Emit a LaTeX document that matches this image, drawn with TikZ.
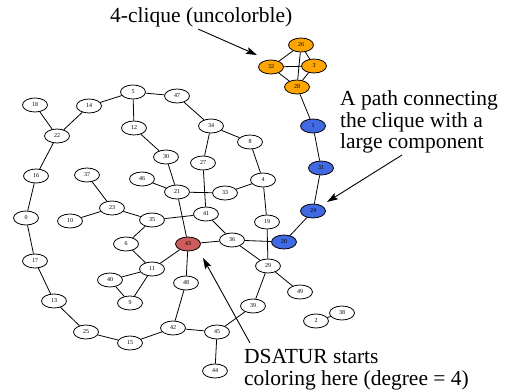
\documentclass[tikz,border=0pt]{standalone}
\usepackage{fontspec}
\setmainfont{Liberation Serif}
\usetikzlibrary{shapes.geometric,arrows.meta}
\definecolor{cOrange}{RGB}{255,165,0}
\definecolor{cBlue}{RGB}{65,105,225}
\definecolor{cRed}{RGB}{205,92,92}
\begin{document}
\begin{tikzpicture}[x=1pt,y=-1pt,
  vtx/.style={ellipse, draw, line width=0.8pt, minimum width=25pt, minimum height=14pt, inner sep=0pt, font=\fontsize{6}{7}\selectfont, fill=white},
  orng/.style={vtx, fill=cOrange},
  blu/.style={vtx, fill=cBlue},
  rd/.style={vtx, fill=cRed},
  edge/.style={line width=0.8pt},
  note/.style={font=\fontsize{21.5}{22}\selectfont, inner sep=0pt, anchor=base west},
  annot/.style={-{Stealth[length=11pt,width=7pt,inset=2pt]}, line width=0.9pt}
]
\useasboundingbox (0,0) rectangle (506,391);

% vertices
\node[vtx] (n18) at (35,105) {18};
\node[vtx] (n14) at (89,106) {14};
\node[vtx] (n5) at (133,92) {5};
\node[vtx] (n47) at (177,96) {47};
\node[vtx] (n22) at (57,136) {22};
\node[vtx] (n12) at (134,128) {12};
\node[vtx] (n30) at (166,157) {30};
\node[vtx] (n16) at (36,176) {16};
\node[vtx] (n37) at (87,175) {37};
\node[vtx] (n46) at (142,179) {46};
\node[vtx] (n21) at (177,192) {21};
\node[vtx] (n23) at (112,208) {23};
\node[vtx] (n0) at (26,218) {0};
\node[vtx] (n10) at (70,221) {10};
\node[vtx] (n35) at (152,220) {35};
\node[vtx] (n34) at (211,126) {34};
\node[vtx] (n8) at (250,142) {8};
\node[vtx] (n27) at (203,163) {27};
\node[vtx] (n4) at (263,180) {4};
\node[vtx] (n33) at (225,193) {33};
\node[vtx] (n41) at (206,214) {41};
\node[vtx] (n19) at (267,222) {19};
\node[vtx] (n36) at (232,240) {36};
\node[rd] (n43) at (188,244) {43};
\node[blu] (n20) at (284,242) {20};
\node[vtx] (n6) at (126,244) {6};
\node[vtx] (n17) at (35,261) {17};
\node[vtx] (n11) at (152,269) {11};
\node[vtx] (n40) at (110,280) {40};
\node[vtx] (n9) at (130,303) {9};
\node[vtx] (n13) at (54,301) {13};
\node[vtx] (n25) at (86,332) {25};
\node[vtx] (n15) at (130,343) {15};
\node[vtx] (n42) at (173,328) {42};
\node[vtx] (n29) at (268,266) {29};
\node[vtx] (n48) at (186,283) {48};
\node[vtx] (n49) at (300,292) {49};
\node[vtx] (n39) at (253,306) {39};
\node[vtx] (n2) at (316,321) {2};
\node[vtx] (n38) at (342,313) {38};
\node[vtx] (n45) at (217,332) {45};
\node[vtx] (n44) at (215,371) {44};
\node[orng] (n26) at (301,45) {26};
\node[orng] (n32) at (271,67) {32};
\node[orng] (n3) at (314,66) {3};
\node[orng] (n28) at (297,87) {28};
\node[blu] (n1) at (313,126) {1};
\node[blu] (n31) at (321,168) {31};
\node[blu] (n24) at (313,211) {24};

% edges
\foreach \a/\b in {18/22,14/22,22/16,16/0,0/17,17/13,13/25,25/15,15/42,42/48,48/43,
  42/45,45/44,45/39,39/29,29/49,29/36,29/19,19/4,4/8,4/33,8/34,34/47,47/5,5/14,
  5/12,12/30,30/21,21/46,21/33,21/43,27/34,27/41,41/35,41/36,35/23,23/37,23/10,
  35/6,6/11,11/43,11/40,11/9,40/9,43/36,36/20,20/24,24/31,31/1,1/28,28/32,28/26,
  28/3,32/26,32/3,26/3,2/38}
  \draw[edge] (n\a) -- (n\b);

% annotations
\node[note] (t1) at (110,22) {4-clique (uncolorble)};
\node[note] (t2a) at (340,105) {A path connecting};
\node[note] (t2b) at (340,127) {the clique with a};
\node[note] (t2c) at (340,148) {large component};
\node[note] (t3a) at (244,363) {DSATUR starts};
\node[note] (t3b) at (244,385) {coloring here (degree = 4)};

\coordinate (a1s) at (198,29);
\coordinate (a1e) at (257,55);
\coordinate (a2s) at (402,155);
\coordinate (a2e) at (327,202);
\coordinate (a3s) at (250,343);
\coordinate (a3e) at (203,258);
\draw[annot] (a1s) -- (a1e);
\draw[annot] (a2s) -- (a2e);
\draw[annot] (a3s) -- (a3e);
\end{tikzpicture}
\end{document}
